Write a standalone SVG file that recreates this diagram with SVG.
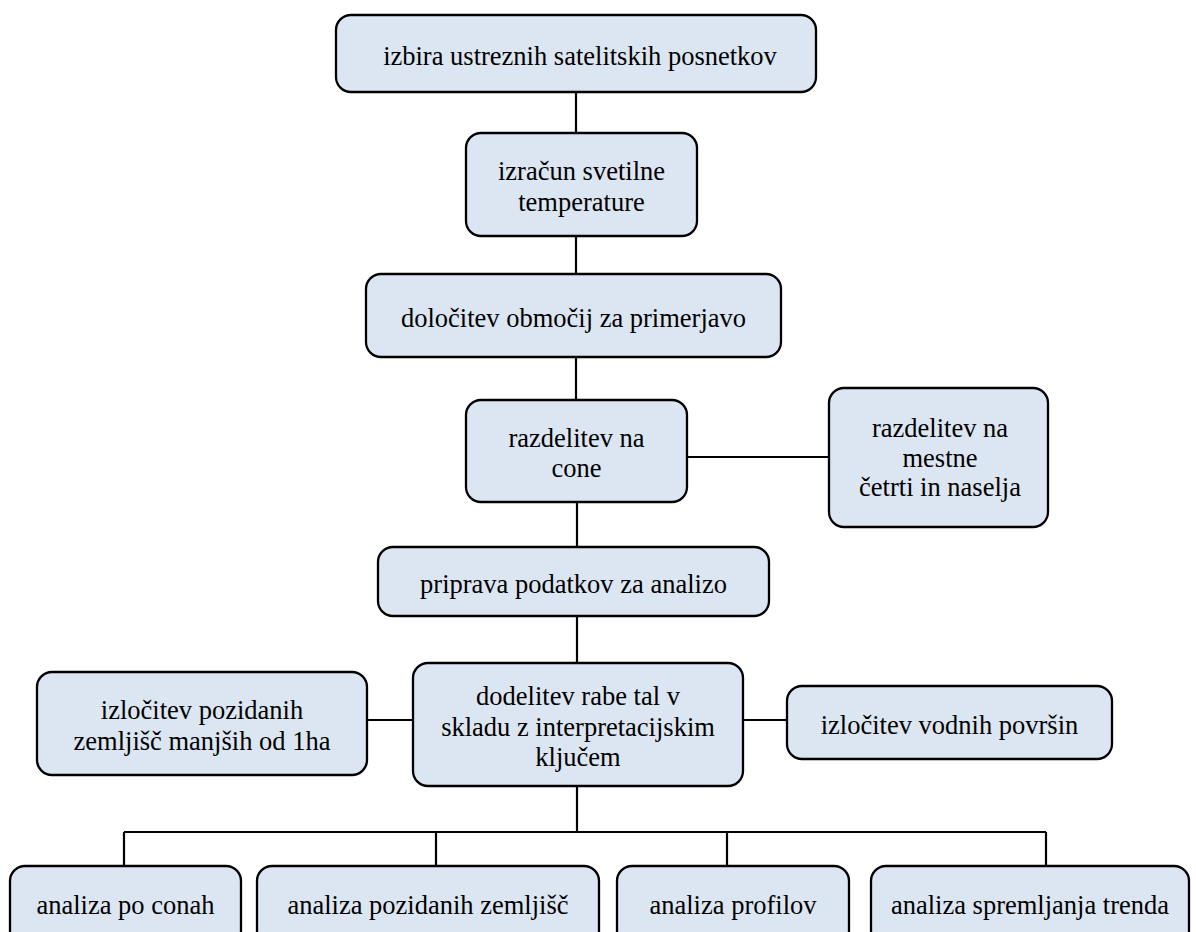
<svg xmlns="http://www.w3.org/2000/svg" width="1196" height="932" viewBox="0 0 1196 932">
<style>
.box{fill:#dce6f2;stroke:#000;stroke-width:2.3}
.t{font-family:'Liberation Serif','Times New Roman',serif;font-size:26.5px;fill:#000;text-anchor:middle}
.c{stroke:#000;stroke-width:2.2;fill:none}
</style>
<rect width="1196" height="932" fill="#fff"/>
<g id="connectors">
<path class="c" d="M576 92V133M576 236V274M576 357V400M687 457H829M577 502V547M577 616V663M367 720H413M743 720H787M577 786V832M124 832H1046M124 832V866M436 832V866M727 832V866M1046 832V866"/>
</g>
<g id="n1"><rect class="box" x="336" y="15" width="480" height="77" rx="15"/><text class="t" x="580" y="65">izbira ustreznih satelitskih posnetkov</text></g>
<g id="n2"><rect class="box" x="466" y="133" width="231" height="103" rx="15"/><text class="t" x="581.5" y="180">izračun svetilne</text><text class="t" x="581.5" y="210.5">temperature</text></g>
<g id="n3"><rect class="box" x="366" y="274" width="415" height="83" rx="15"/><text class="t" x="573.5" y="326.5">določitev območij za primerjavo</text></g>
<g id="n4"><rect class="box" x="466" y="400" width="221" height="102" rx="15"/><text class="t" x="576.5" y="446.5">razdelitev na</text><text class="t" x="576.5" y="477">cone</text></g>
<g id="n5"><rect class="box" x="829" y="388" width="219" height="139" rx="15"/><text class="t" x="940" y="437">razdelitev na</text><text class="t" x="940" y="466.5">mestne</text><text class="t" x="940" y="496">četrti in naselja</text></g>
<g id="n6"><rect class="box" x="378" y="547" width="391" height="69" rx="15"/><text class="t" x="573.5" y="592.5">priprava podatkov za analizo</text></g>
<g id="n7"><rect class="box" x="413" y="663" width="330" height="123" rx="15"/><text class="t" x="578" y="705">dodelitev rabe tal v</text><text class="t" x="578" y="735.5">skladu z interpretacijskim</text><text class="t" x="578" y="766">ključem</text></g>
<g id="n8"><rect class="box" x="37" y="672" width="330" height="103" rx="15"/><text class="t" x="202" y="719">izločitev pozidanih</text><text class="t" x="202" y="749.5">zemljišč manjših od 1ha</text></g>
<g id="n9"><rect class="box" x="787" y="686" width="325" height="73" rx="15"/><text class="t" x="949.5" y="733.5">izločitev vodnih površin</text></g>
<g id="n10"><rect class="box" x="10" y="866" width="231" height="80" rx="15"/><text class="t" x="125.5" y="914">analiza po conah</text></g>
<g id="n11"><rect class="box" x="257" y="866" width="342" height="80" rx="15"/><text class="t" x="428" y="914">analiza pozidanih zemljišč</text></g>
<g id="n12"><rect class="box" x="617" y="866" width="232" height="80" rx="15"/><text class="t" x="733" y="914">analiza profilov</text></g>
<g id="n13"><rect class="box" x="871" y="866" width="318" height="80" rx="15"/><text class="t" x="1030" y="914">analiza spremljanja trenda</text></g>
</svg>
